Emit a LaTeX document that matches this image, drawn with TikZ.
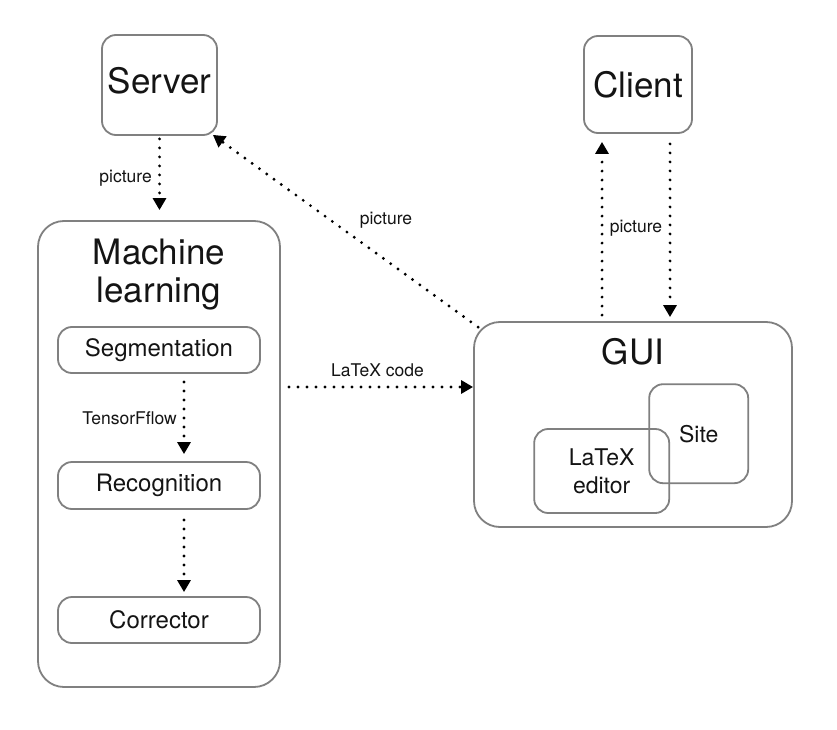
\documentclass[tikz,border=0pt]{standalone}
\usepackage{fontspec}
\setmainfont{TeX Gyre Heros}
\usetikzlibrary{arrows.meta,calc}
\definecolor{boxgray}{RGB}{128,128,128}
\definecolor{txt}{RGB}{20,20,20}
\tikzset{
  box/.style={draw=boxgray, line width=1.8pt, rectangle, inner sep=0pt, text=txt},
  bigbox/.style={box, rounded corners=14pt, font={\fontsize{35}{38}\selectfont}},
  wrapbox/.style={box, rounded corners=26pt},
  innerbox/.style={box, rounded corners=14pt, minimum width=202pt, font={\fontsize{24}{28}\selectfont}},
  smallbox/.style={box, rounded corners=14pt, align=center, font={\fontsize{23}{28}\selectfont}},
  bigtext/.style={inner sep=0pt, align=center, text=txt, font={\fontsize{35}{38}\selectfont}},
  lbl/.style={inner sep=0pt, text=txt, font={\fontsize{17.5}{20}\selectfont}},
  flow/.style={line width=3.2pt, line cap=round, dash pattern=on 0pt off 9pt,
    -{Triangle[length=12pt,width=13pt]}},
}
\begin{document}
\begin{tikzpicture}[x=1pt,y=-1pt]
\useasboundingbox (0,0) rectangle (837,730);
\fill[white] (0,0) rectangle (837,730);

% top boxes
\node[bigbox, minimum width=115pt, minimum height=100pt, text height=25pt, text depth=8pt] (server) at (159.5,85) {Server};
\node[bigbox, minimum width=108pt, minimum height=97pt] (client) at (638,84.5) {Client};

% machine learning
\node[wrapbox, minimum width=242pt, minimum height=466pt] (ml) at (159,454) {};
\node[bigtext] (mltitle) at (159,275) {Machine\\learning};
\node[innerbox, minimum height=46pt] (seg) at (159,350) {Segmentation};
\node[innerbox, minimum height=47pt] (rec) at (159,485.5) {Recognition};
\node[innerbox, minimum height=46pt] (cor) at (159,620) {Corrector};

% GUI
\node[wrapbox, minimum width=318pt, minimum height=205pt] (gui) at (633,424.5) {};
\node[bigtext] (guititle) at (633,352) {GUI};
\node[smallbox, minimum width=99pt, minimum height=99pt] (site) at (698.7,433.7) {Site};
\node[smallbox, minimum width=135pt, minimum height=84pt] (editor) at (601.7,471) {LaTeX\\editor};

% connectors
\draw[flow] ($(server.south)+(0,3)$) -- ($(server.south |- ml.north)+(0,-10)$);
\node[lbl, anchor=east] (lpic1) at (152,178) {picture};

\draw[flow] ($(gui.north west)+(5,6)$) -- ($(server.south east)+(-5,-1)$);
\node[lbl] (lpic2) at (386,220) {picture};

\draw[flow] ($(gui.north -| client.south)+(-36,-6)$) -- ($(client.south)+(-36,8)$);
\draw[flow] ($(client.south)+(32,10)$) -- ($(gui.north -| client.south)+(32,-4)$);
\node[lbl] (lpic3) at (636,228) {picture};

\draw[flow] ($(ml.east)+(8,-67)$) coordinate (lcs) -- (lcs -| gui.west);
\node[lbl] (llatex) at (377.5,370) {LaTeX code};

\draw[flow] ($(seg.south)+(25,8)$) -- ($(rec.north)+(25,-7)$);
\node[lbl, anchor=east] (ltf) at (177,418) {TensorFflow};

\draw[flow] ($(rec.south)+(25,10)$) -- ($(cor.north)+(25,-4)$);
\end{tikzpicture}
\end{document}
